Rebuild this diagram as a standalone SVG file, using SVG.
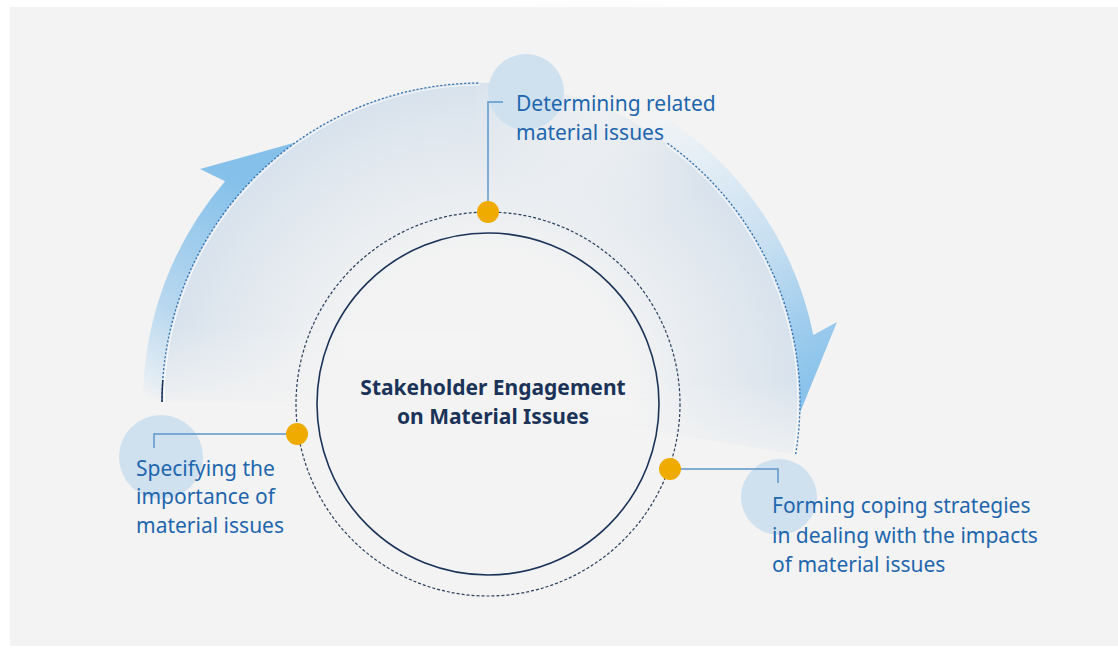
<svg xmlns="http://www.w3.org/2000/svg" width="1118" height="651" viewBox="0 0 1118 651">
  <style>
    .lbl { font-family: "Noto Sans", "Open Sans", "DejaVu Sans", sans-serif; font-size: 21px; fill: #1e66ad; }
    .ttl { font-family: "Noto Sans", "Open Sans", "DejaVu Sans", sans-serif; font-size: 21px; font-weight: bold; fill: #1b3358; text-anchor: middle; }
    .bubble { fill: #cfe0ef; }
    .dot { fill: #f0ab00; }
    .conn { fill: none; stroke: #5e97c9; stroke-width: 1.5; }
    .outerDots { fill: none; stroke: #2e6eac; stroke-width: 1.3; stroke-dasharray: 2 2; }
    .halo { fill: none; stroke: #ffffff; stroke-width: 1.2; stroke-opacity: 0.7; }
  </style>
  <defs>
    <radialGradient id="gFill" gradientUnits="userSpaceOnUse" cx="481" cy="402" r="330">
      <stop offset="0.45" stop-color="#f3f3f3"/>
      <stop offset="1" stop-color="#d6e1ec"/>
    </radialGradient>
    <linearGradient id="gMaskL" gradientUnits="userSpaceOnUse" x1="0" y1="330" x2="0" y2="415">
      <stop offset="0" stop-color="#ffffff"/>
      <stop offset="1" stop-color="#000000"/>
    </linearGradient>
    <linearGradient id="gMaskR" gradientUnits="userSpaceOnUse" x1="0" y1="385" x2="0" y2="470">
      <stop offset="0" stop-color="#ffffff"/>
      <stop offset="1" stop-color="#000000"/>
    </linearGradient>
    <mask id="mFill" maskUnits="userSpaceOnUse" x="0" y="0" width="1118" height="651">
      <rect x="0" y="0" width="481" height="651" fill="url(#gMaskL)"/>
      <rect x="481" y="0" width="637" height="651" fill="url(#gMaskR)"/>
    </mask>
    <radialGradient id="gTop" gradientUnits="userSpaceOnUse" cx="600" cy="105" r="130">
      <stop offset="0" stop-color="#f3f3f3" stop-opacity="0.85"/>
      <stop offset="1" stop-color="#f3f3f3" stop-opacity="0"/>
    </radialGradient>
    <linearGradient id="gLeft" gradientUnits="userSpaceOnUse" x1="290" y1="140" x2="150" y2="400">
      <stop offset="0.2" stop-color="#84c0ea"/>
      <stop offset="0.7" stop-color="#b9d8ef"/>
      <stop offset="0.94" stop-color="#e4edf4"/>
      <stop offset="1" stop-color="#f3f3f3"/>
    </linearGradient>
    <linearGradient id="gRight" gradientUnits="userSpaceOnUse" x1="650" y1="110" x2="820" y2="400">
      <stop offset="0" stop-color="#f3f3f3"/>
      <stop offset="0.16" stop-color="#e8f0f6"/>
      <stop offset="0.52" stop-color="#c7dff1"/>
      <stop offset="0.8" stop-color="#9ccbed"/>
      <stop offset="1" stop-color="#84c0ea"/>
    </linearGradient>
  </defs>

  <rect x="0" y="0" width="1118" height="651" fill="#ffffff"/>
  <rect x="10" y="7" width="1108" height="639" fill="#f3f3f3"/>

  <g id="cycle-backdrop">
    <path d="M162,402 A319,319 0 1 1 795.6,454.6 L481,402 Z" fill="url(#gFill)" mask="url(#mFill)"/>
    <circle cx="600" cy="105" r="130" fill="url(#gTop)"/>
  </g>

  <g id="arrows">
    <path d="M162,402 A319,319 0 0 1 295.3,142.6 L200,169 L225.1,181.2 A338,338 0 0 0 143,402 Z" fill="url(#gLeft)"/>
    <path d="M630.8,120.4 A319,319 0 0 1 799.8,413.1 L837,322 L813.3,335 A339,339 0 0 0 640.2,102.7 Z" fill="url(#gRight)"/>
    <path class="halo" d="M164,402 A317,317 0 0 1 480,85"/>
    <path class="halo" d="M666.4,145 A317,317 0 0 1 793.6,454.3"/>
    <path class="outerDots" d="M162,402 A319,319 0 0 1 480,83"/>
    <path class="outerDots" d="M667.6,143.3 A319,319 0 0 1 795.6,454.6"/>
    <path d="M162,402 A319,319 0 0 1 162.8,380" fill="none" stroke="#1b3358" stroke-width="1.5"/>
  </g>

  <g id="center-node">
    <circle cx="488" cy="404" r="192" fill="none" stroke="#2b3f5e" stroke-width="1.2" stroke-dasharray="3 2"/>
    <circle cx="488" cy="404" r="171" fill="none" stroke="#1b3358" stroke-width="1.6"/>
    <text class="ttl" x="493" y="395">Stakeholder Engagement</text>
    <text class="ttl" x="493" y="424">on Material Issues</text>
  </g>

  <g id="node-determining">
    <circle class="bubble" cx="526" cy="92" r="38"/>
    <text class="lbl" x="516" y="111">Determining related</text>
    <text class="lbl" x="516" y="140">material issues</text>
  </g>

  <g id="node-specifying">
    <circle class="bubble" cx="161" cy="457" r="42"/>
    <text class="lbl" x="136" y="476">Specifying the</text>
    <text class="lbl" x="136" y="504">importance of</text>
    <text class="lbl" x="136" y="533">material issues</text>
  </g>

  <g id="node-forming">
    <circle class="bubble" cx="779" cy="497" r="38"/>
    <text class="lbl" x="772" y="513">Forming coping strategies</text>
    <text class="lbl" x="772" y="543">in dealing with the impacts</text>
    <text class="lbl" x="772" y="572">of material issues</text>
  </g>

  <g id="connectors">
    <path class="conn" d="M488,212 V102 H503"/>
    <path class="conn" d="M297,434 H154 V448"/>
    <path class="conn" d="M670,469 H778 V483"/>
  </g>

  <g id="anchor-dots">
    <circle class="dot" cx="488" cy="212" r="11"/>
    <circle class="dot" cx="297" cy="434" r="11"/>
    <circle class="dot" cx="670" cy="469" r="11"/>
  </g>
</svg>
